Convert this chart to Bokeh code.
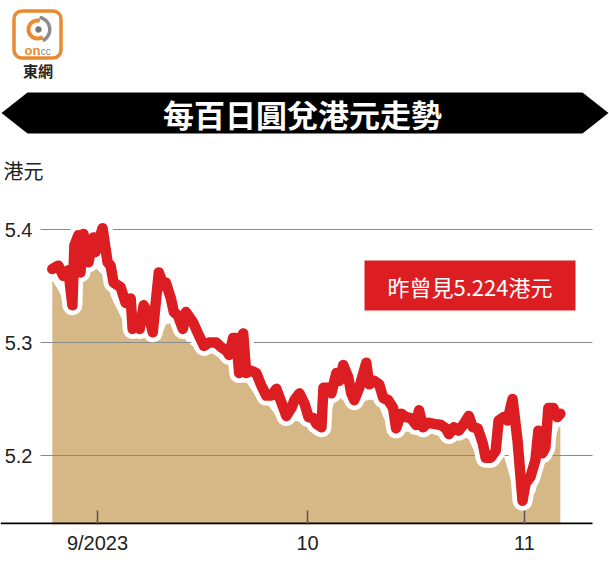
import numpy as np
import pandas as pd
from bokeh.plotting import figure
from bokeh.models import Range1d, FixedTicker, ColumnDataSource
from bokeh.core.properties import value
from bokeh.embed import file_html
from bokeh.resources import INLINE

# ---------------- data ----------------
# days after 2023-09-01 (fractional) and JPY100 -> HKD rate
day_offsets = [-6.46, -5.60, -4.88, -4.16, -3.59, -3.30, -2.73, -2.44, -2.01, -1.29,
               -0.57, -0.29, 0.72, 1.44, 1.87, 2.30, 3.30, 4.02, 4.74, 5.02,
               5.74, 6.03, 6.60, 7.32, 7.89, 8.76, 9.47, 9.76, 10.48, 10.91,
               11.48, 12.20, 12.63, 13.64, 14.35, 15.21, 15.93, 16.94, 17.65, 18.37,
               18.80, 19.38, 19.81, 20.24, 20.81, 21.24, 21.96, 22.68, 23.40, 24.11,
               24.83, 25.55, 26.27, 26.98, 27.70, 28.13, 28.85, 29.57, 30.14, 30.85,
               31.28, 31.99, 32.28, 32.99, 33.41, 34.12, 34.55, 35.12, 35.83, 36.26,
               36.68, 37.39, 38.39, 38.82, 39.53, 40.24, 40.81, 41.52, 42.23, 42.66,
               43.37, 44.08, 44.79, 45.50, 45.93, 46.50, 47.21, 48.07, 49.06, 49.77,
               50.20, 50.91, 51.62, 52.33, 53.04, 53.61, 54.32, 55.03, 55.45, 56.17,
               56.88, 57.30, 58.01, 58.58, 59.29, 60.01, 60.72, 61.14, 61.85, 62.56,
               62.99, 63.56, 63.98, 64.41, 65.12, 65.69, 66.12]
rates = [5.365, 5.368, 5.359, 5.364, 5.333, 5.386, 5.395, 5.362, 5.396, 5.371,
         5.393, 5.380, 5.401, 5.371, 5.368, 5.353, 5.349, 5.335, 5.339, 5.312,
         5.321, 5.312, 5.333, 5.324, 5.309, 5.362, 5.350, 5.353, 5.339, 5.327,
         5.324, 5.312, 5.327, 5.318, 5.308, 5.297, 5.300, 5.300, 5.296, 5.293,
         5.289, 5.304, 5.304, 5.273, 5.308, 5.273, 5.275, 5.273, 5.262, 5.253,
         5.253, 5.259, 5.247, 5.235, 5.242, 5.249, 5.255, 5.246, 5.234, 5.233,
         5.228, 5.225, 5.260, 5.260, 5.255, 5.273, 5.266, 5.280, 5.269, 5.255,
         5.249, 5.260, 5.282, 5.263, 5.266, 5.263, 5.251, 5.249, 5.242, 5.224,
         5.237, 5.234, 5.233, 5.227, 5.240, 5.225, 5.229, 5.228, 5.227, 5.224,
         5.219, 5.225, 5.222, 5.228, 5.235, 5.225, 5.224, 5.211, 5.198, 5.198,
         5.204, 5.231, 5.234, 5.231, 5.250, 5.213, 5.160, 5.175, 5.181, 5.196,
         5.222, 5.202, 5.207, 5.242, 5.242, 5.234, 5.237]
x_tick_dates = ["2023-09-01", "2023-10-01", "2023-11-01"]
x_tick_labels = ["9/2023", "10", "11"]
y_ticks = [5.2, 5.3, 5.4]
title_text = "每百日圓兌港元走勢"
unit_text = "港元"
note_text = "昨曾見5.224港元"
logo_text = "東網"

RED = "#DC1E23"
TAN = "#D6B887"
ORANGE = "#E98A2E"
GREY = "#8C8C8C"
CJK = "Noto Sans CJK TC"
LAT = "Liberation Sans"

base = pd.Timestamp("2023-09-01")
xs = base + pd.to_timedelta(day_offsets, unit="D")
ser = pd.Series(rates)
shadow = (ser.rolling(5, center=True, min_periods=1).min()
          .rolling(3, center=True, min_periods=1).mean() - 0.004).tolist()
src = ColumnDataSource(dict(x=xs, y=rates, s=shadow))

# ---------------- figure geometry ----------------
# canvas starts at the page origin; frame spans page x 0..609, y 0..524
W, H = 609, 570
BL, BR, BT, BB = 0, 0, 0, 46
OX, OY = 0, 0
FRAME_BOTTOM = H - BB
Y0 = 5.4 - (FRAME_BOTTOM - 229) / 1130.0
Y1 = 5.4 + (229 - OY) / 1130.0
X0 = base + pd.Timedelta(days=(OX - 97) / 7.0)
X1 = base + pd.Timedelta(days=(OX + W - 97) / 7.0)
x0ms, x1ms = X0.value / 1e6, X1.value / 1e6
FW, FH = W - BL - BR, H - BT - BB


def dx(px):
    """page pixel x -> data x (ms) for decorative items"""
    return x0ms + (px - OX - BL) / FW * (x1ms - x0ms)


def dy(py):
    return Y1 - (py - OY - BT) / FH * (Y1 - Y0)


p = figure(width=W, height=H, x_axis_type="datetime",
           x_range=Range1d(X0, X1), y_range=Range1d(Y0, Y1),
           toolbar_location=None, output_backend="svg",
           min_border_left=BL, min_border_right=BR, min_border_top=BT,
           min_border_bottom=BB, outline_line_color=None)

# ---------------- chart ----------------
p.varea(x="x", y1=Y0, y2="s", source=src, fill_color=TAN, level="image")
p.segment(x0=dx(40), x1=dx(592), y0=y_ticks, y1=y_ticks, line_color="#8A8A8A",
          line_width=1, level="underlay")
p.line(x="x", y="y", source=src, line_color="white", line_width=20,
       line_join="round", line_cap="round")
p.line(x="x", y="y", source=src, line_color=RED, line_width=10.5,
       line_join="round", line_cap="round")
# baseline (axis line) from the left edge to the end of the plot area
p.quad(left=dx(0), right=dx(592), top=dy(FRAME_BOTTOM - 2), bottom=Y0,
       fill_color="black", line_color=None)

# note box
p.quad(left=dx(364), right=dx(575), top=dy(260), bottom=dy(310),
       fill_color=RED, line_color=None)
p.text(x=[dx(469.5)], y=[dy(285.5)], text=[note_text], text_font=value(CJK),
       text_font_size="22px", text_color="white", text_align="center",
       text_baseline="middle")

# axes
tick_ms = [pd.Timestamp(d).value / 1e6 for d in x_tick_dates]
p.xaxis.ticker = FixedTicker(ticks=tick_ms)
p.xaxis.major_label_overrides = {t: l for t, l in zip(tick_ms, x_tick_labels)}
p.xaxis.axis_line_color = None
p.xaxis.major_tick_in = 14
p.xaxis.major_tick_out = 0
p.xaxis.major_tick_line_color = "#555555"
p.xaxis.major_tick_line_width = 1.5
p.xaxis.minor_tick_line_color = None
p.xaxis.major_label_text_font = LAT
p.xaxis.major_label_text_font_size = "20px"
p.xaxis.major_label_text_color = "#222222"
p.xaxis.major_label_standoff = 7

p.yaxis.ticker = FixedTicker(ticks=y_ticks)
p.yaxis.axis_line_color = None
p.yaxis.major_tick_line_color = None
p.yaxis.major_tick_in = 0
p.yaxis.major_tick_out = 0
p.yaxis.minor_tick_line_color = None
p.yaxis.major_label_text_font = LAT
p.yaxis.major_label_text_font_size = "20px"
p.yaxis.major_label_text_color = "#222222"
p.yaxis.major_label_standoff = -32

p.grid.visible = False

# ---------------- header (decoration, inside the tall frame) ----------------
bx = [1, 27, 582, 608, 582, 27]
by = [112.5, 92, 92, 112.5, 133, 133]
p.patch(x=[dx(v) for v in bx], y=[dy(v) for v in by], fill_color="black",
        line_color=None)
p.text(x=[dx(302)], y=[dy(113)], text=[title_text], text_font=value(CJK),
       text_font_style="bold", text_font_size="31px", text_color="white",
       text_align="center", text_baseline="middle")
p.text(x=[dx(3)], y=[dy(170)], text=[unit_text], text_font=value(CJK),
       text_font_size="20px", text_color="#222222", text_align="left",
       text_baseline="middle")

# logo
p.quad(left=dx(13.5), right=dx(60.5), top=dy(10.5), bottom=dy(57.5),
       fill_color="white", line_color=ORANGE, line_width=3.5, border_radius=8)


def arc_poly(cx, cy, r_in, r_out, a0, a1, n=30):
    t = np.radians(np.linspace(a0, a1, n))
    ox = cx + r_out * np.cos(t)
    oy = cy - r_out * np.sin(t)
    ix = cx + r_in * np.cos(t[::-1])
    iy = cy - r_in * np.sin(t[::-1])
    px = np.concatenate([ox, ix])
    py = np.concatenate([oy, iy])
    return [dx(v) for v in px], [dy(v) for v in py]


for (cx, cy, ri, ro, a0, a1, col) in [(37, 29, 7, 11, 75, 305, ORANGE),
                                      (37, 29, 10.5, 14, -65, 80, GREY),
                                      (38, 29, 0, 3.2, 0, 360, "#777777")]:
    ax_, ay_ = arc_poly(cx, cy, ri, ro, a0, a1)
    p.patch(x=ax_, y=ay_, fill_color=col, line_color=None)

p.text(x=[dx(24)], y=[dy(50)], text=["on"], text_font=value(LAT), text_font_style="bold",
       text_font_size="13px", text_color=ORANGE, text_baseline="middle")
p.text(x=[dx(37.5)], y=[dy(51)], text=[".cc"], text_font=value(LAT),
       text_font_size="10px", text_color=GREY, text_baseline="middle")
p.text(x=[dx(37.5)], y=[dy(70)], text=[logo_text], text_font=value(CJK),
       text_font_style="bold", text_font_size="15px", text_color="#222222",
       text_align="center", text_baseline="middle")

open("out.html", "w").write(file_html(p, INLINE))
